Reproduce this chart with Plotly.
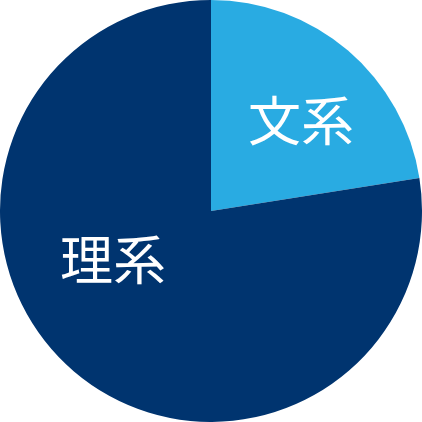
import plotly.graph_objects as go

labels = ['文系', '理系']
values = [22.5, 77.5]
colors = ['#29ABE2', '#00346F']

# label positions inside each slice (paper coords)
label_x = [0.713, 0.268]
label_y = [0.72, 0.39]

fig = go.Figure(go.Pie(
    labels=labels,
    values=values,
    sort=False,
    direction='clockwise',
    rotation=0,
    marker=dict(colors=colors, line=dict(width=0)),
    textinfo='none',
    hoverinfo='label+percent',
    domain=dict(x=[0, 1], y=[0, 1]),
))

for lab, x, y in zip(labels, label_x, label_y):
    fig.add_annotation(x=x, y=y, xref='paper', yref='paper', text=lab, showarrow=False,
                       xanchor='center', yanchor='middle',
                       font=dict(family='Noto Sans CJK JP', size=53, color='white'))

fig.update_layout(width=422, height=422, margin=dict(l=0, r=0, t=0, b=0),
                  showlegend=False, paper_bgcolor='white')

fig.write_html("out.html", config={'displayModeBar': False},
               post_script="document.body.style.margin='0';")
